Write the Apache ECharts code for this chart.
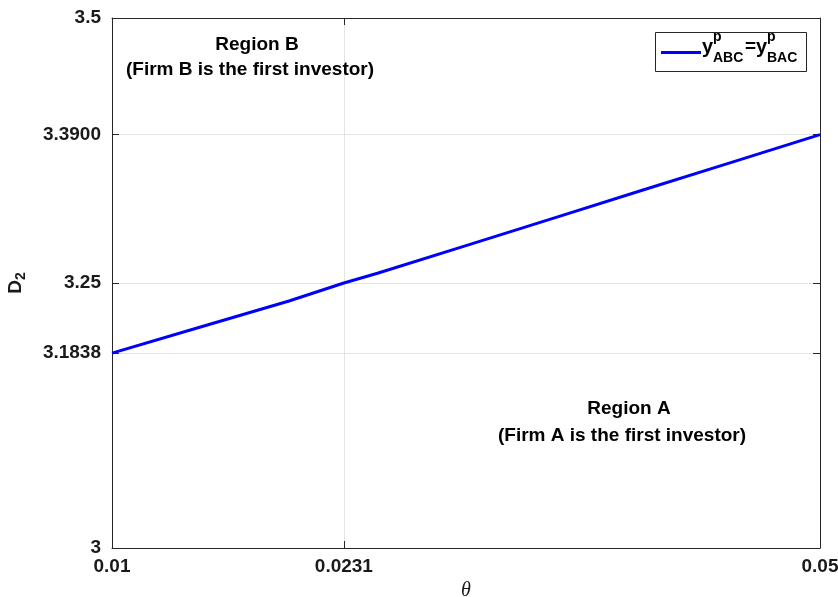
<!DOCTYPE html>
<html>
<head>
<meta charset="utf-8">
<script src="https://cdn.jsdelivr.net/npm/echarts@6/dist/echarts.min.js"></script>
<style>
html, body { margin: 0; padding: 0; background: #fff; }
#main { width: 838px; height: 597px; }
</style>
</head>
<body>
<div id="main"></div>
<script>
// boundary curve: D2 as a function of theta
const theta = [0.01, 0.015, 0.02, 0.0231, 0.025, 0.03, 0.035, 0.04, 0.045, 0.05];
const d2 = [3.1838, 3.2085, 3.2330, 3.2500, 3.2592, 3.2853, 3.3115, 3.3377, 3.3638, 3.3900];
// tick positions and their labels
const xTicks = [0.01, 0.0231, 0.05];
const xTickLabels = ['0.01', '0.0231', '0.05'];
const yTicks = [3, 3.1838, 3.25, 3.39, 3.5];
const yTickLabels = ['3', '3.1838', '3.25', '3.3900', '3.5'];

const axisColor = '#262626';
const font = '"Liberation Sans", Arial, sans-serif';

function labelOf(ticks, labels) {
  return function (v) {
    for (let i = 0; i < ticks.length; i++) {
      if (Math.abs(ticks[i] - v) < 1e-9) return labels[i];
    }
    return '';
  };
}

function makeAxis(ticks, labels, min, max, pos, main) {
  return {
    type: 'value',
    position: pos,
    min: min,
    max: max,
    axisLine: { show: true, lineStyle: { color: axisColor, width: 1 } },
    axisTick: { show: true, inside: true, length: 7, customValues: ticks, lineStyle: { color: axisColor } },
    axisLabel: {
      show: main,
      customValues: ticks,
      formatter: labelOf(ticks, labels),
      color: '#1a1a1a',
      fontFamily: font,
      fontWeight: 'bold',
      fontSize: 19,
      margin: 11
    },
    splitLine: { show: main, lineStyle: { color: '#e3e3e3', width: 1 } }
  };
}

const chart = echarts.init(document.getElementById('main'));

const xBottom = makeAxis(xTicks, xTickLabels, 0.01, 0.05, 'bottom', true);
xBottom.axisLabel.margin = 9;
xBottom.name = 'θ';
xBottom.nameLocation = 'middle';
xBottom.nameGap = 32;
xBottom.nameTextStyle = { fontFamily: '"Liberation Serif", serif', fontStyle: 'italic', fontSize: 20, color: '#1a1a1a' };

const yLeft = makeAxis(yTicks, yTickLabels, 3, 3.5, 'left', true);
yLeft.name = '{d|D}{s|2}';
yLeft.nameLocation = 'middle';
yLeft.nameRotate = 90;
yLeft.nameGap = 84;
yLeft.nameTextStyle = {
  rich: {
    d: { fontFamily: font, fontWeight: 'bold', fontSize: 19, color: '#1a1a1a', lineHeight: 24 },
    s: { fontFamily: font, fontWeight: 'bold', fontSize: 14, color: '#1a1a1a', verticalAlign: 'bottom', lineHeight: 14 }
  }
};

// legend label y^p_ABC = y^p_BAC, pieces placed by hand
const legendText = [
  { t: 'y', x: 702, y: 47, size: 20 },
  { t: 'p', x: 713, y: 37.5, size: 14 },
  { t: 'ABC', x: 713, y: 58, size: 14 },
  { t: '=', x: 745, y: 47, size: 19 },
  { t: 'y', x: 756, y: 47, size: 20 },
  { t: 'p', x: 767, y: 37.5, size: 14 },
  { t: 'BAC', x: 767, y: 58, size: 14 }
];

const notes = [
  { t: 'Region B', x: 257, y: 45 },
  { t: '(Firm B is the first investor)', x: 250, y: 70 },
  { t: 'Region A', x: 629, y: 409 },
  { t: '(Firm A is the first investor)', x: 622, y: 436 }
];

const graphics = [{
  type: 'rect',
  z: 3,
  shape: { x: 655.5, y: 32.5, width: 151, height: 39 },
  style: { fill: '#fff', stroke: axisColor, lineWidth: 1 }
}].concat(legendText.map(g => ({
  type: 'text',
  z: 100,
  style: { text: g.t, x: g.x, y: g.y, font: 'bold ' + g.size + 'px ' + font, fill: '#000', align: 'left', verticalAlign: 'middle' }
}))).concat(notes.map(n => ({
  type: 'text',
  z: 100,
  style: { text: n.t, x: n.x, y: n.y, font: 'bold 19px ' + font, fill: '#000', align: 'center', verticalAlign: 'middle' }
})));

const option = {
  backgroundColor: '#fff',
  animation: false,
  grid: { left: 112, right: 18, top: 18, bottom: 49, containLabel: false, outerBoundsMode: 'none' },
  xAxis: [xBottom, makeAxis(xTicks, xTickLabels, 0.01, 0.05, 'top', false)],
  yAxis: [yLeft, makeAxis(yTicks, yTickLabels, 3, 3.5, 'right', false)],
  legend: {
    left: 661,
    top: 51,
    padding: 0,
    icon: 'rect',
    itemWidth: 40,
    itemHeight: 3,
    itemGap: 0,
    z: 4,
    formatter: () => '',
    textStyle: { fontSize: 14 },
    data: ['boundary']
  },
  graphic: graphics,
  series: [{
    name: 'boundary',
    type: 'line',
    xAxisIndex: 0,
    yAxisIndex: 0,
    symbol: 'none',
    lineStyle: { color: '#0000ff', width: 3 },
    itemStyle: { color: '#0000ff' },
    data: theta.map((t, i) => [t, d2[i]])
  }]
};

chart.setOption(option);
</script>
</body>
</html>
